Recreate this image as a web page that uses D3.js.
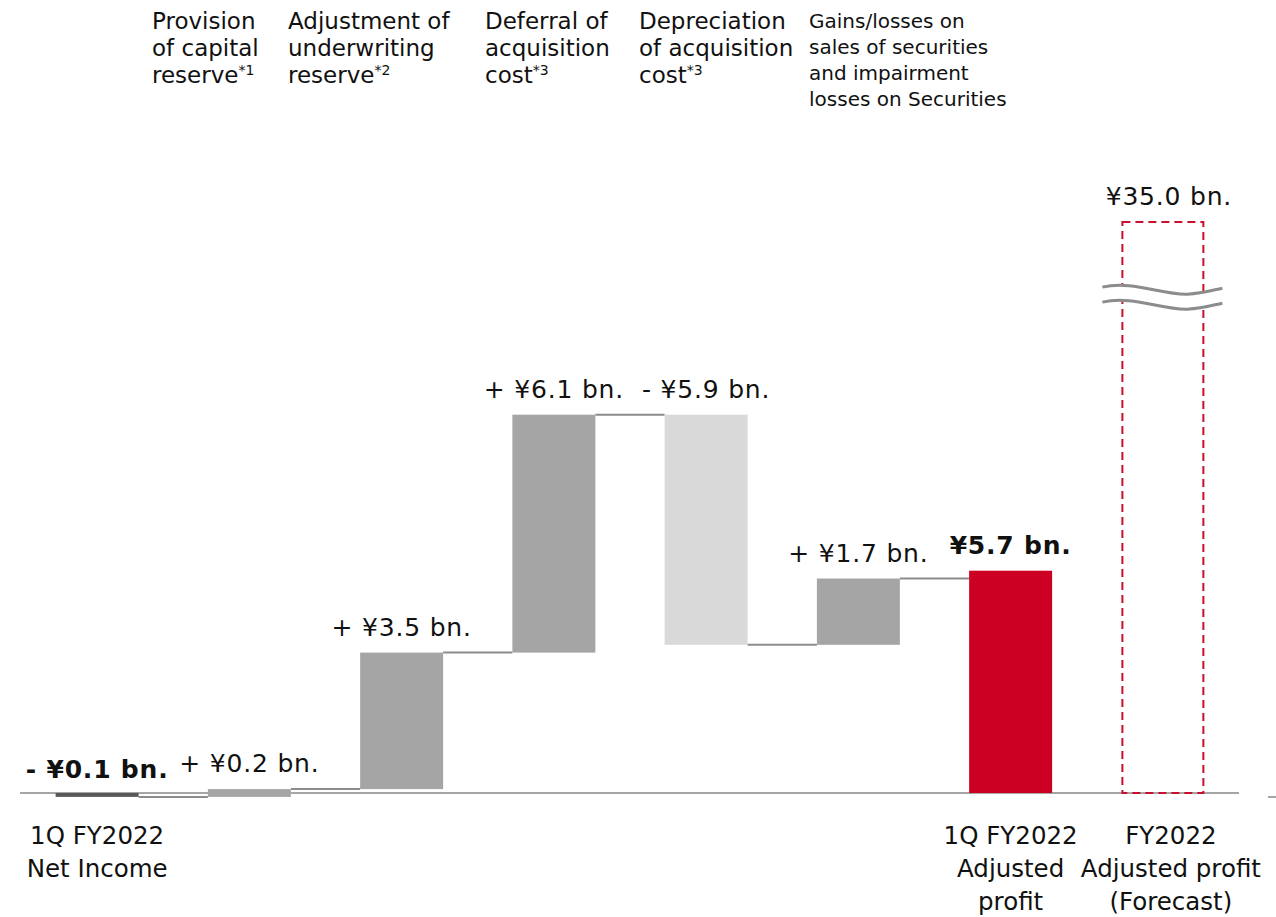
<!DOCTYPE html>
<html>
<head>
<meta charset="utf-8">
<script src="https://cdn.jsdelivr.net/npm/d3@7/dist/d3.min.js"></script>
<style>
  html, body { margin: 0; padding: 0; background: #ffffff; }
  svg { display: block; font-family: "DejaVu Sans", Verdana, sans-serif; }
</style>
</head>
<body>
<svg id="chart" width="1276" height="917"></svg>
<script>
// ---- Data -------------------------------------------------------------
const categories = ["netIncome", "capital", "underwriting", "deferral", "depreciation", "securities", "adjusted", "forecast"];
const startValue = -0.1;            // 1Q FY2022 net income (¥ bn.)
const stepValues = [0.2, 3.5, 6.1, -5.9, 1.7];  // reconciling items (¥ bn.)
const adjustedValue = 5.7;          // 1Q FY2022 adjusted profit (¥ bn.)
const forecastValue = 35.0;         // FY2022 adjusted profit forecast (¥ bn.)

const valueLabels = ["- ¥0.1 bn.", "+ ¥0.2 bn.", "+ ¥3.5 bn.", "+ ¥6.1 bn.", "- ¥5.9 bn.", "+ ¥1.7 bn.", "¥5.7 bn.", "¥35.0 bn."];
const boldLabels = [true, false, false, false, false, false, true, false];

const topLabelLines = [
  ["Provision", "of capital", "reserve"],
  ["Adjustment of", "underwriting", "reserve"],
  ["Deferral of", "acquisition", "cost"],
  ["Depreciation", "of acquisition", "cost"],
  ["Gains/losses on", "sales of securities", "and impairment", "losses on Securities"]
];
const topLabelNotes = ["*1", "*2", "*3", "*3", ""];

const bottomLabelLines = [
  ["1Q FY2022", "Net Income"],
  [], [], [], [], [],
  ["1Q FY2022", "Adjusted", "profit"],
  ["FY2022", "Adjusted profit", "(Forecast)"]
];

// ---- Layout -----------------------------------------------------------
const svg = d3.select("#chart");
const COL_DARK = "#595959", COL_MID = "#a5a5a5", COL_LIGHT = "#d9d9d9", COL_RED = "#cc0022";

const x = d3.scaleBand()
  .domain(categories)
  .range([21, 1239])
  .paddingInner(0.455)
  .paddingOuter(0.2275);

// Broken value axis: linear up to 10, compressed above the break.
const y = d3.scaleLinear()
  .domain([0, 10, 35])
  .range([793, 403, 222]);

// Build waterfall segments
const bars = [];
bars.push({ key: categories[0], from: 0, to: startValue, fill: COL_DARK });
let running = startValue;
stepValues.forEach((v, i) => {
  bars.push({ key: categories[i + 1], from: running, to: running + v,
              fill: v < 0 ? COL_LIGHT : COL_MID });
  running += v;
});
bars.push({ key: categories[6], from: 0, to: adjustedValue, fill: COL_RED });

// Baseline
svg.append("line")
  .attr("x1", 20).attr("x2", 1239)
  .attr("y1", y(0)).attr("y2", y(0))
  .attr("stroke", "#a6a6a6").attr("stroke-width", 2);
svg.append("line")
  .attr("x1", 1268).attr("x2", 1276)
  .attr("y1", y(0) + 4).attr("y2", y(0) + 4)
  .attr("stroke", "#a6a6a6").attr("stroke-width", 2);

// Connectors between consecutive bars
const connectors = bars.slice(0, -1).map((b, i) => ({
  x1: x(b.key) + x.bandwidth(),
  x2: x(bars[i + 1].key),
  level: b.to
}));
svg.append("g").selectAll("line")
  .data(connectors)
  .join("line")
  .attr("x1", d => d.x1).attr("x2", d => d.x2)
  .attr("y1", d => y(d.level)).attr("y2", d => y(d.level))
  .attr("stroke", "#8c8c8c").attr("stroke-width", 2);

// Bars
svg.append("g").selectAll("rect")
  .data(bars)
  .join("rect")
  .attr("x", d => x(d.key))
  .attr("width", x.bandwidth())
  .attr("y", d => y(Math.max(d.from, d.to)))
  .attr("height", d => Math.max(3, Math.abs(y(d.from) - y(d.to))))
  .attr("fill", d => d.fill);

// Forecast: dashed outline bar
const fx = x("forecast"), fw = x.bandwidth(), fTop = y(forecastValue), fBot = y(0);
svg.append("rect")
  .attr("x", fx + 1).attr("y", fTop)
  .attr("width", fw - 2).attr("height", fBot - fTop)
  .attr("fill", "none")
  .attr("stroke", "#c8102e").attr("stroke-width", 2)
  .attr("stroke-dasharray", "8,5");

// Axis break marker across the forecast bar
const bx0 = fx - 19, bx1 = fx + fw + 18, by = y(26.0);
const wave = (dy) => `M${bx0},${by + dy} C${bx0 + 30},${by + dy - 7} ${bx0 + 60},${by + dy + 8} ${bx0 + 85},${by + dy + 7} C${bx0 + 100},${by + dy + 6} ${bx0 + 110},${by + dy + 3} ${bx1},${by + dy + 1}`;
const brk = svg.append("g");
brk.append("path")
  .attr("d", wave(0) + ` L${bx1},${by + 16} ` +
       `C${bx0 + 110},${by + 18} ${bx0 + 100},${by + 21} ${bx0 + 85},${by + 22} C${bx0 + 60},${by + 23} ${bx0 + 30},${by + 8} ${bx0},${by + 15} Z`)
  .attr("fill", "#ffffff");
brk.append("path").attr("d", wave(0)).attr("fill", "none").attr("stroke", "#8c8c8c").attr("stroke-width", 3);
brk.append("path").attr("d", wave(15)).attr("fill", "none").attr("stroke", "#8c8c8c").attr("stroke-width", 3);

// Value labels above each bar
const labelTops = bars.map(b => Math.max(b.from, b.to));
labelTops[4] = bars[4].from;      // decrease: label sits above its starting level
labelTops.push(forecastValue);
svg.append("g").selectAll("text")
  .data(valueLabels)
  .join("text")
  .attr("x", (d, i) => x(categories[i]) + x.bandwidth() / 2 + (i === 7 ? 6 : 0))
  .attr("y", (d, i) => y(labelTops[i]) - (i === 0 ? 15 : 17))
  .attr("text-anchor", "middle")
  .attr("font-size", 25)
  .attr("letter-spacing", 0.8)
  .attr("font-weight", (d, i) => boldLabels[i] ? "bold" : "normal")
  .attr("fill", "#111")
  .text(d => d);

// Item headings at the top
const topLeft = [152, 288, 485, 639, 809];
const topSize = [23, 23, 23, 23, 20];
const topGap = [27, 27, 27, 27, 26];
topLabelLines.forEach((lines, i) => {
  const t = svg.append("text")
    .attr("font-size", topSize[i])
    .attr("fill", "#111");
  lines.forEach((ln, j) => {
    t.append("tspan")
      .attr("x", topLeft[i])
      .attr("y", (i === 4 ? 28 : 29) + j * topGap[i])
      .text(ln);
  });
  if (topLabelNotes[i]) {
    t.append("tspan")
      .attr("dy", -8)
      .attr("font-size", 14)
      .text(topLabelNotes[i]);
  }
});

// Category labels under the baseline
bottomLabelLines.forEach((lines, i) => {
  if (!lines.length) return;
  const cx = x(categories[i]) + x.bandwidth() / 2 + (i === 7 ? 8 : 0);
  const t = svg.append("text")
    .attr("text-anchor", "middle")
    .attr("font-size", 24.5)
    .attr("fill", "#111");
  lines.forEach((ln, j) => {
    t.append("tspan").attr("x", cx).attr("y", 844 + j * 33).text(ln);
  });
});
</script>
</body>
</html>
